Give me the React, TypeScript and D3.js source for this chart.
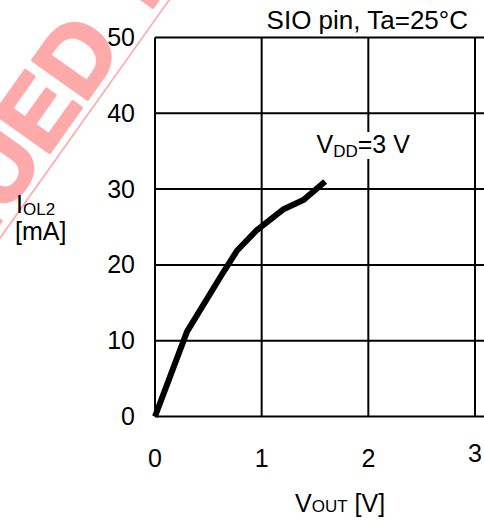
import React from "react";
import * as d3 from "d3";

const W = 484;
const H = 521;

// data
const vout = [0, 0.3, 0.63, 0.77, 0.955, 1.2, 1.39, 1.595];
const iol = [0, 11.2, 18.8, 21.9, 24.6, 27.3, 28.55, 31.0];
const xTicks = [0, 1, 2, 3];
const yTicks = [0, 10, 20, 30, 40, 50];
const xGrid = [0, 1, 2, 3, 4];

const title = "SIO pin, Ta=25°C";
const FONT = "'Liberation Sans', Arial, Helvetica, sans-serif";

export default function App() {
  const x = d3.scaleLinear().domain([0, 3]).range([155, 475]);
  const y = d3.scaleLinear().domain([0, 50]).range([416.5, 37.5]);
  const pts: [number, number][] = vout.map((v, i) => [v, iol[i]]);
  const line = d3
    .line<[number, number]>()
    .x((d) => x(d[0]))
    .y((d) => y(d[1]));

  return (
    <svg
      width={W}
      height={H}
      style={{ position: "absolute", left: 0, top: 0, background: "#fff" }}
      fontFamily={FONT}
    >
      {/* watermark */}
      <g transform="translate(0,238) rotate(-54.6)">
        <line x1={-50} x2={400} y1={0} y2={0} stroke="#ffaaaa" strokeWidth={1.6} />
        <text
          x={228}
          y={-9}
          textAnchor="end"
          fontSize={98}
          fontWeight="bold"
          fill="#ffaaaa"
          stroke="#ffaaaa"
          strokeWidth={3}
          strokeLinejoin="round"
        >
          DISCONTINUED
        </text>
        <text
          x={270}
          y={-9}
          fontSize={98}
          fontWeight="bold"
          fill="#ffaaaa"
          stroke="#ffaaaa"
          strokeWidth={3}
          strokeLinejoin="round"
        >
          PRODUCT
        </text>
      </g>

      {/* grid */}
      {yTicks.map((t) => (
        <line key={"h" + t} x1={x(0)} x2={W + 10} y1={y(t)} y2={y(t)} stroke="#000" strokeWidth={2} />
      ))}
      {xGrid.map((t) => (
        <line key={"v" + t} x1={x(t)} x2={x(t)} y1={y(0)} y2={y(50)} stroke="#000" strokeWidth={2} />
      ))}

      {/* tick labels */}
      {yTicks.map((t) => (
        <text key={"yl" + t} x={135} y={y(t) + 8.5} textAnchor="end" fontSize={25} fill="#000">
          {t}
        </text>
      ))}
      {xTicks.map((t) => (
        <text
          key={"xl" + t}
          x={x(t)}
          y={t === 3 ? 462 : 467}
          textAnchor="middle"
          fontSize={25}
          fill="#000"
        >
          {t}
        </text>
      ))}

      {/* curve */}
      <path d={line(pts) || ""} fill="none" stroke="#000" strokeWidth={6} strokeLinejoin="round" />

      {/* series label with white background */}
      <rect x={313} y={132} width={104} height={27} fill="#fff" />
      <text x={316.5} y={153} fontSize={25} fill="#000">
        V
        <tspan fontSize={17} dy={4}>DD</tspan>
        <tspan dy={-4}>=3 V</tspan>
      </text>

      {/* title */}
      <text x={468} y={29} textAnchor="end" fontSize={26} fill="#000">
        {title}
      </text>

      {/* y axis title */}
      <text x={16} y={213} fontSize={25} fill="#000">
        I
        <tspan fontSize={17} dy={2}>OL2</tspan>
      </text>
      <text x={15} y={240} fontSize={25} fill="#000">
        [mA]
      </text>

      {/* x axis title */}
      <text x={295} y={511.5} fontSize={25} fill="#000">
        V
        <tspan fontSize={17}>OUT</tspan>
        <tspan> [V]</tspan>
      </text>
    </svg>
  );
}
